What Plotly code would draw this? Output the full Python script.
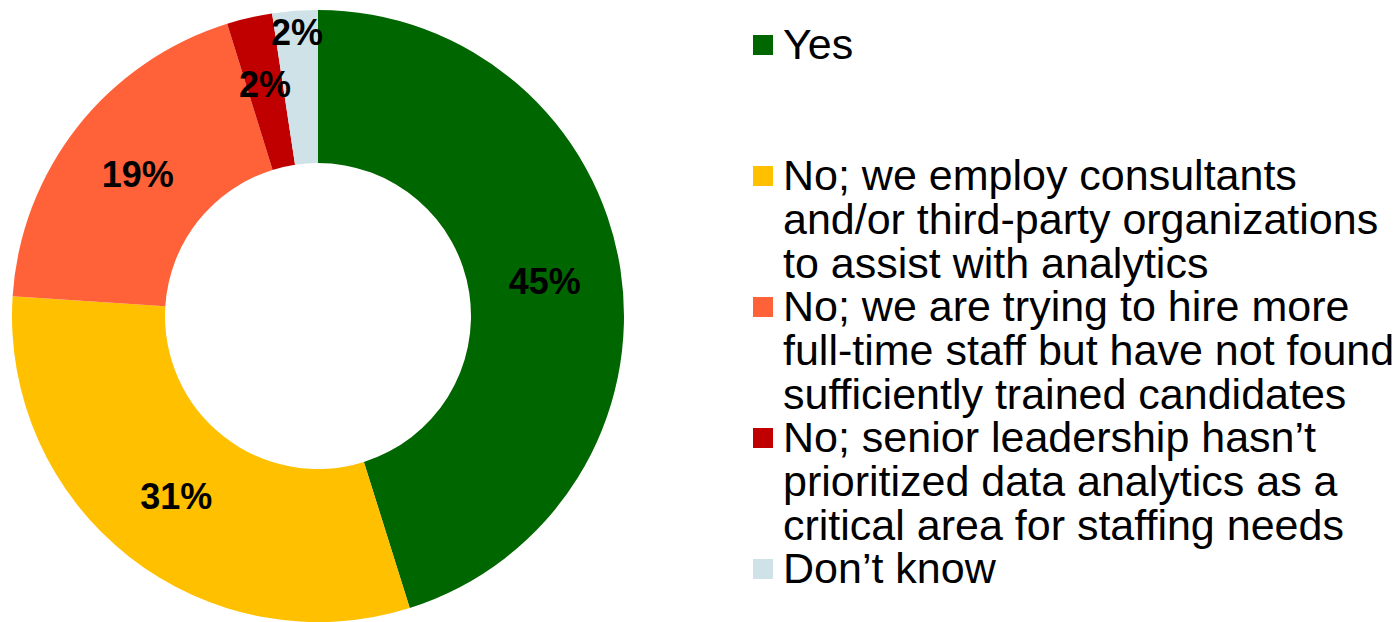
import math
import plotly.graph_objects as go

W, H = 1397, 622

categories = [
    "Yes",
    "No; we employ consultants and/or third-party organizations to assist with analytics",
    "No; we are trying to hire more full-time staff but have not found sufficiently trained candidates",
    "No; senior leadership hasn’t prioritized data analytics as a critical area for staffing needs",
    "Don’t know",
]
legend_lines = [
    ["Yes"],
    ["No; we employ consultants", "and/or third-party organizations", "to assist with analytics"],
    ["No; we are trying to hire more", "full-time staff but have not found", "sufficiently trained candidates"],
    ["No; senior leadership hasn’t", "prioritized data analytics as a", "critical area for staffing needs"],
    ["Don’t know"],
]
values = [45.2, 30.9, 19.2, 2.4, 2.4]
colors = ["#006600", "#FFC000", "#FF6138", "#C00000", "#CFE2E7"]

# small slices get their labels placed by hand-tuned radius (like the original)
small_label_radius = {3: 238, 4: 284}

total = sum(values)
templates = ["" if i in small_label_radius else "%{percent:.0%}" for i in range(len(values))]

LABEL_FONT = dict(family="Liberation Sans, Arial", size=36, color="black", weight="bold")

fig = go.Figure(go.Pie(
    labels=categories,
    values=values,
    hole=0.5,
    sort=False,
    direction="clockwise",
    rotation=0,
    marker=dict(colors=colors, line=dict(width=0)),
    texttemplate=templates,
    textposition="inside",
    insidetextorientation="horizontal",
    textfont=LABEL_FONT,
    domain=dict(x=[12 / W, 624 / W], y=[0, 612 / H]),
    showlegend=False,
))

annotations = []
shapes = []

# labels for the thin slices
cx, cy = 318, 316
cum = 0.0
for i, v in enumerate(values):
    mid = (cum + v / 2) / total * 2 * math.pi
    cum += v
    if i in small_label_radius:
        r = small_label_radius[i]
        px = cx + r * math.sin(mid)
        py = cy - r * math.cos(mid)
        annotations.append(dict(text=f"{round(v / total * 100)}%", xref="paper", yref="paper",
                                x=px / W, y=1 - py / H, xanchor="center", yanchor="middle",
                                showarrow=False, font=LABEL_FONT))

# custom legend (tight line spacing like the original)
item_top = 45
item_step = 131
line_step = 44
for i, lines in enumerate(legend_lines):
    y0 = item_top + i * item_step
    shapes.append(dict(type="rect", xref="paper", yref="paper",
                       x0=753 / W, x1=773 / W,
                       y0=1 - (y0 - 10) / H, y1=1 - (y0 + 10) / H,
                       fillcolor=colors[i], line=dict(width=0)))
    for j, txt in enumerate(lines):
        yy = y0 + j * line_step
        annotations.append(dict(text=txt, xref="paper", yref="paper",
                                x=781 / W, y=1 - (yy - 1) / H,
                                xanchor="left", yanchor="middle", showarrow=False,
                                font=dict(family="Liberation Sans, Arial", size=43, color="black")))

fig.update_layout(
    width=W, height=H,
    margin=dict(l=0, r=0, t=0, b=0),
    paper_bgcolor="white",
    plot_bgcolor="white",
    annotations=annotations,
    shapes=shapes,
)

fig.write_html("out.html")
